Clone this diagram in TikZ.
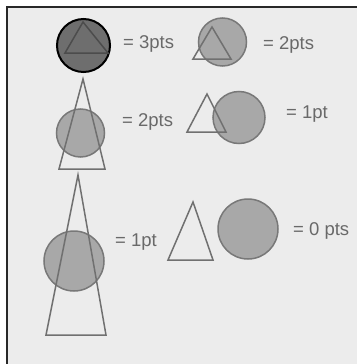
\documentclass[tikz,border=0pt]{standalone}
\usepackage{fontspec}
\setmainfont{Liberation Sans}
\definecolor{panelgray}{RGB}{236,236,236}
\definecolor{framegray}{RGB}{40,40,40}
\definecolor{discgray}{RGB}{168,168,168}
\definecolor{rimgray}{RGB}{120,120,120}
\definecolor{darkdisc}{RGB}{110,110,110}
\definecolor{trigray}{RGB}{112,112,112}
\definecolor{textgray}{RGB}{105,105,105}
\begin{document}
\begin{tikzpicture}[x=1pt,y=1pt,yscale=-1,xscale=1,
  disc/.style={draw=rimgray,fill=discgray,line width=1.5pt},
  tri/.style={draw=trigray,line width=1.5pt},
  lbl/.style={anchor=base west,inner sep=0pt,text=textgray,font=\fontsize{18.5}{22}\selectfont}]
\useasboundingbox (0,0) rectangle (357,364);
%Shape: Rectangle
\fill [panelgray] (8,8) rectangle (357,364);
\draw [line width=2pt,framegray] (7,364) -- (7,7) -- (357,7);

%Shape: Circle
\draw [fill=darkdisc,line width=2pt] (83.5,45.5) circle (26.5);
%Shape: Triangle
\draw [tri,draw=black!70] (83,22) -- (108,53) -- (65,53) -- cycle;
% Text Node
\node [lbl] (pts3) at (123,48) {= 3pts};

%Shape: Circle
\draw [disc] (222.5,42) circle (24);
%Shape: Triangle
\draw [tri] (212,27) -- (231,59) -- (193,59) -- cycle;
% Text Node
\node [lbl] (pts2a) at (263,49) {= 2pts};

%Shape: Circle
\draw [disc] (80.5,133) circle (24);
%Shape: Triangle
\draw [tri] (83,79) -- (105,169) -- (59,169) -- cycle;
% Text Node
\node [lbl] (pts2b) at (122,126) {= 2pts};

%Shape: Circle
\draw [disc] (239,117.5) circle (26);
%Shape: Triangle
\draw [tri] (207,94) -- (226,132) -- (187,132) -- cycle;
% Text Node
\node [lbl] (pt1a) at (286,118) {= 1pt};

%Shape: Circle
\draw [disc] (74,261) circle (30);
%Shape: Triangle
\draw [tri] (78,175) -- (106,335) -- (46,335) -- cycle;
% Text Node
\node [lbl] (pt1b) at (115,246) {= 1pt};

%Shape: Circle
\draw [disc] (248,229) circle (30);
%Shape: Triangle
\draw [tri] (193,202) -- (213,260) -- (168,260) -- cycle;
% Text Node
\node [lbl] (pts0) at (293,235) {= 0 pts};
\end{tikzpicture}
\end{document}
